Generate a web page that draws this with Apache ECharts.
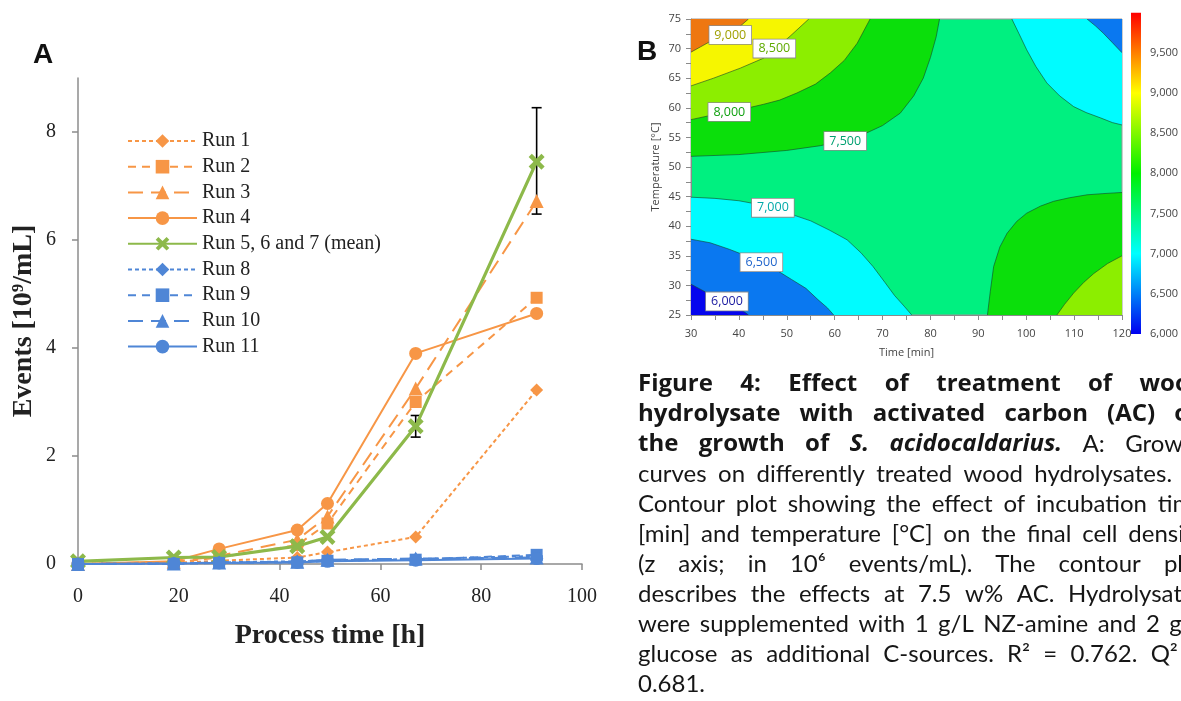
<!DOCTYPE html>
<html><head><meta charset="utf-8">
<script src="https://cdn.jsdelivr.net/npm/echarts@6/dist/echarts.min.js"></script>
<style>html,body{margin:0;padding:0;background:#fff}#c{width:1181px;height:701px}</style>
</head><body><div id="c"></div>
<script>
// ---------- Panel A data ----------
const times = [0, 19, 28, 43.5, 49.5, 67, 91];
const run1 = [0, 0.02, 0.06, 0.12, 0.22, 0.5, 3.22];
const run2 = [0, 0.03, 0.12, 0.35, 0.75, 3.0, 4.93];
const run3 = [0, 0.04, 0.15, 0.45, 0.88, 3.25, 6.72];
const run4 = [0, 0.05, 0.28, 0.63, 1.12, 3.9, 4.64];
const runMean = [0.05, 0.12, 0.13, 0.33, 0.5, 2.55, 7.45];
const run8 = [0, 0.01, 0.03, 0.05, 0.07, 0.09, 0.15];
const run9 = [0, 0.0, 0.02, 0.03, 0.06, 0.08, 0.17];
const run10 = [0, 0.01, 0.03, 0.04, 0.08, 0.1, 0.12];
const run11 = [0, 0.01, 0.02, 0.03, 0.05, 0.07, 0.1];
const errX = [67, 91];
const errLow = [2.35, 6.48];
const errHigh = [2.75, 8.45];
const yTicksA = [0, 2, 4, 6, 8];

// ---------- Panel B data (contour lines: [time min, temperature °C]) ----------
const iso9000TL = [[30,69.4],[32,70.3],[34,71.2],[36,71.9],[38.2,72.6],[40,73.6],[42,75]];
const iso8500TL = [[30,63.7],[34.7,65.0],[40.3,66.7],[45.2,68.4],[47.4,69.8],[50.7,72.1],[54.6,75]];
const iso8000TL = [[30,58.0],[34,58.7],[38,59.4],[42,60.0],[45.2,60.6],[48.5,61.3],[52.1,62.5],[56,64.0],[59.1,65.9],[62,68.0],[64.7,70.9],[67.4,75]];
const iso7500TL = [[30,51.8],[40,52.1],[50,52.8],[57,53.6],[62,54.5],[66,55.5],[70,57.0],[73.7,59.1],[76.5,62],[78.5,65],[80,68.5],[81.2,72],[81.9,75]];
const iso7000BL = [[30,44.9],[35,44.7],[40,44.3],[44,43.7],[47,43.0],[51,42.0],[55,40.9],[59,39.3],[62.6,37.7],[65.5,35.5],[68,33.2],[70.5,30.5],[72.5,28.3],[74.5,26.5],[76.1,25]];
const iso6500BL = [[30,37.8],[34,37.2],[38,36.1],[41.5,35.0],[44.6,33.8],[48,32.5],[51,31.0],[54,29.5],[56.5,27.6],[58.5,26.2],[59.8,25]];
const iso6000BL = [[30,30.2],[33,28.9],[36,27.8],[39,26.6],[41,25.6],[42,25]];
const iso7000TR = [[97,75],[98.5,72.5],[100.1,69.8],[102,67],[104.3,64.2],[107,62],[109.9,60.2],[112.5,59.2],[115.5,58.3],[118,57.5],[120,57.1]];
const iso6500TR = [[112.7,75],[114.5,73.8],[116.1,72.6],[118,71],[120,69.3]];
const iso7500BR = [[91.9,25],[92.5,29],[93.2,33.2],[94.5,36.5],[96,38.8],[98,40.8],[100.1,42.2],[103,43.4],[105.7,44.2],[109,44.8],[112.7,45.3],[116,45.5],[120,45.7]];
const iso8000BR = [[106.4,25],[108,26.8],[109.9,28.7],[112,30.5],[114.1,32.0],[117,33.7],[120,35.0]];
const contourLabels = [[38.2,72.3,9000],[47.4,70.0,8500],[38.0,59.3,8000],[62.2,54.4,7500],[47.1,43.1,7000],[44.7,33.9,6500],[37.5,27.3,6000]];
const colorbarTicks = [6000, 6500, 7000, 7500, 8000, 8500, 9000, 9500];
const colorbarRange = [6000, 10000];

// ---------- Caption ----------
const captionLines = [
  [['b','Figure 4: Effect of treatment of wood']],
  [['b','hydrolysate with activated carbon (AC) on']],
  [['b','the growth of'],['bi','S. acidocaldarius.'],['r','A: Growth']],
  [['r','curves on differently treated wood hydrolysates. B:']],
  [['r','Contour plot showing the effect of incubation time']],
  [['r','[min] and temperature [°C] on the final cell density']],
  [['r','(z axis; in 10⁶ events/mL). The contour plot']],
  [['r','describes the effects at 7.5 w% AC. Hydrolysates']],
  [['r','were supplemented with 1 g/L NZ-amine and 2 g/L']],
  [['r','glucose as additional C-sources. R² = 0.762. Q² =']],
  [['r','0.681.']]
];

// ---------- styles ----------
const ORANGE = '#F79646', BLUE = '#4F86D6', GREEN = '#8DB94A';
const SERIF = 'Liberation Serif';
const XPATH = 'path://M0,2L2,0L5,3L8,0L10,2L7,5L10,8L8,10L5,7L2,10L0,8L3,5Z';
const C = {bg:'#00F080', g7500:'#0BDF0B', g8000:'#8CEE00', g8500:'#F6F600', g9000:'#EE7711',
           c7000:'#00FCFF', b6500:'#0A78F0', b6000:'#0505EE'};
const regions = [
  {line: iso7500TL, corner: [[30,75]], color: C.g7500},
  {line: iso8000TL, corner: [[30,75]], color: C.g8000},
  {line: iso8500TL, corner: [[30,75]], color: C.g8500},
  {line: iso9000TL, corner: [[30,75]], color: C.g9000},
  {line: iso7000BL, corner: [[30,25]], color: C.c7000},
  {line: iso6500BL, corner: [[30,25]], color: C.b6500},
  {line: iso6000BL, corner: [[30,25]], color: C.b6000},
  {line: iso7000TR, corner: [[120,75]], color: C.c7000},
  {line: iso6500TR, corner: [[120,75]], color: C.b6500},
  {line: iso7500BR, corner: [[120,25]], color: C.g7500},
  {line: iso8000BR, corner: [[120,25]], color: C.g8000}
];
const labelColors = ['#A0A000','#5FAA00','#10A010','#00A070','#00A8A8','#2266CC','#1A1AA0'];

function runSeries(name, vals, color, dash, symbol, size, width, z) {
  return {
    name, type: 'line', xAxisIndex: 0, yAxisIndex: 0, z: z || 2,
    data: times.map((t, i) => [t, vals[i]]),
    symbol, symbolSize: size, showAllSymbol: true,
    lineStyle: {color, width, type: dash, cap: 'butt'},
    itemStyle: {color, borderWidth: 0},
    emphasis: {disabled: true}
  };
}

const series = [
  runSeries('Run 1', run1, ORANGE, [4, 3], 'diamond', 13, 2),
  runSeries('Run 2', run2, ORANGE, [8, 6], 'rect', 12, 2),
  runSeries('Run 3', run3, ORANGE, [15, 8], 'triangle', 14, 2),
  runSeries('Run 4', run4, ORANGE, 'solid', 'circle', 13, 2),
  runSeries('Run 5, 6 and 7 (mean)', runMean, GREEN, 'solid', XPATH, 16, 3.2, 3),
  runSeries('Run 8', run8, BLUE, [4, 3], 'diamond', 13, 2, 4),
  runSeries('Run 9', run9, BLUE, [8, 6], 'rect', 12, 2, 4),
  runSeries('Run 10', run10, BLUE, [15, 8], 'triangle', 14, 2, 4),
  runSeries('Run 11', run11, BLUE, 'solid', 'circle', 13, 2, 4),
  {
    type: 'custom', xAxisIndex: 0, yAxisIndex: 0, z: 2,
    data: errX.map((x, i) => [x, errLow[i], errHigh[i]]),
    renderItem: (params, api) => {
      const lo = api.coord([api.value(0), api.value(1)]);
      const hi = api.coord([api.value(0), api.value(2)]);
      const w = 5, st = {stroke: '#000', lineWidth: 1.6};
      return {type: 'group', children: [
        {type: 'line', shape: {x1: lo[0], y1: lo[1], x2: hi[0], y2: hi[1]}, style: st},
        {type: 'line', shape: {x1: lo[0]-w, y1: lo[1], x2: lo[0]+w, y2: lo[1]}, style: st},
        {type: 'line', shape: {x1: hi[0]-w, y1: hi[1], x2: hi[0]+w, y2: hi[1]}, style: st}
      ]};
    }
  },
  {
    type: 'custom', xAxisIndex: 1, yAxisIndex: 1, clip: true,
    data: regions.map((r, i) => [i]),
    renderItem: (params, api) => {
      const r = regions[params.dataIndex];
      const poly = r.line.concat(r.corner).map(p => api.coord(p));
      const pts = r.line.map(p => api.coord(p));
      return {type: 'group', children: [
        {type: 'polygon', shape: {points: poly}, style: {fill: r.color}},
        {type: 'polyline', shape: {points: pts}, style: {stroke: 'rgba(20,70,40,0.6)', lineWidth: 1, fill: null}}
      ]};
    }
  },
  {
    type: 'custom', xAxisIndex: 1, yAxisIndex: 1, z: 5,
    data: contourLabels,
    renderItem: (params, api) => {
      const p = api.coord([api.value(0), api.value(1)]);
      return {type: 'text', x: p[0], y: p[1],
        style: {text: api.value(2).toLocaleString('en-US'), align: 'center', verticalAlign: 'middle',
          fontSize: 12.5, fontFamily: 'Open Sans', fill: labelColors[params.dataIndex],
          backgroundColor: '#fff', borderColor: '#8a8a8a', borderWidth: 0.8, padding: [3, 5, 2, 5]}};
    }
  },
  {
    type: 'custom', xAxisIndex: 2, yAxisIndex: 2,
    data: [[0, colorbarRange[0], colorbarRange[1]]],
    renderItem: (params, api) => {
      const a = api.coord([0, api.value(2)]);
      const b = api.coord([1, api.value(1)]);
      return {type: 'rect', shape: {x: a[0], y: a[1], width: b[0]-a[0], height: b[1]-a[1]},
        style: {fill: new echarts.graphic.LinearGradient(0, 1, 0, 0, [
          {offset: 0, color: '#0000F0'}, {offset: 0.25, color: '#00FFFF'},
          {offset: 0.5, color: '#00F000'}, {offset: 0.75, color: '#FFFF00'},
          {offset: 1, color: '#FF0000'}])}};
    }
  }
];

// caption graphic (justified lines)
const ctx = document.createElement('canvas').getContext('2d');
const CAP = {left: 638, right: 1205, base: 384, pitch: 30};
function fontOf(s) {
  const bold = (s === 'b' || s === 'bi');
  return {
    fontStyle: s === 'bi' ? 'italic' : 'normal',
    fontWeight: bold ? 'bold' : 'normal',
    fontSize: bold ? 24 : 24,
    fontFamily: bold ? 'Open Sans' : 'Lato'
  };
}
const graphics = [
  {type: 'text', x: 33, y: 55, style: {text: 'A', fontFamily: 'Liberation Sans', fontWeight: 'bold', fontSize: 28, fill: '#111', verticalAlign: 'middle'}},
  {type: 'text', x: 637, y: 52, style: {text: 'B', fontFamily: 'Liberation Sans', fontWeight: 'bold', fontSize: 28, fill: '#111', verticalAlign: 'middle'}}
];
captionLines.forEach((line, li) => {
  const words = [];
  line.forEach(([st, txt]) => txt.split(' ').forEach(w => words.push([st, w])));
  let total = 0;
  const widths = words.map(([st, w]) => {
    const f = fontOf(st);
    ctx.font = `${f.fontStyle} ${f.fontWeight} ${f.fontSize}px ${f.fontFamily}`;
    const wd = ctx.measureText(w).width; total += wd; return wd;
  });
  const last = li === captionLines.length - 1;
  const gap = last ? 6 : Math.max(4, (CAP.right - CAP.left - total) / (words.length - 1));
  let x = CAP.left;
  words.forEach(([st, w], i) => {
    const f = fontOf(st);
    graphics.push({type: 'text', x, y: CAP.base + li * CAP.pitch,
      style: Object.assign({text: w, fill: '#161616', verticalAlign: 'middle'}, f)});
    x += widths[i] + gap;
  });
});

const axisGrayA = {color: '#8c8c8c', width: 1.5};
const bAxisLabel = {fontSize: 11, fontFamily: 'Open Sans', color: '#444'};
const option = {
  animation: false,
  backgroundColor: '#fff',
  grid: [
    {left: 78, top: 78, width: 504, height: 486},
    {left: 691, top: 19, width: 431, height: 296, show: true, backgroundColor: C.bg, borderColor: '#9a9a9a', borderWidth: 1},
    {left: 1131, top: 12.7, width: 15, height: 321.3}
  ],
  legend: {
    orient: 'vertical', left: 122, top: 126, itemWidth: 69, itemHeight: 17, itemGap: 5.7,
    selectedMode: false,
    data: ['Run 1','Run 2','Run 3','Run 4','Run 5, 6 and 7 (mean)','Run 8','Run 9','Run 10','Run 11'],
    textStyle: {fontFamily: SERIF, fontSize: 20, color: '#222'}
  },
  xAxis: [
    {gridIndex: 0, type: 'value', min: 0, max: 100, interval: 20,
     axisLine: {lineStyle: axisGrayA}, axisTick: {length: 6, lineStyle: axisGrayA},
     splitLine: {show: false},
     axisLabel: {margin: 23, fontSize: 20, fontFamily: SERIF, color: '#222'},
     name: 'Process time [h]', nameLocation: 'middle', nameGap: 58,
     nameTextStyle: {fontFamily: SERIF, fontWeight: 'bold', fontSize: 28, color: '#222'}},
    {gridIndex: 1, type: 'value', min: 30, max: 120, interval: 10,
     axisLine: {lineStyle: {color: '#8a8a8a'}}, axisTick: {length: 5, lineStyle: {color: '#8a8a8a'}},
     minorTick: {show: true, splitNumber: 2, length: 5, lineStyle: {color: '#8a8a8a'}},
     splitLine: {show: false}, axisLabel: Object.assign({margin: 13}, bAxisLabel),
     name: 'Time [min]', nameLocation: 'middle', nameGap: 32,
     nameTextStyle: {fontSize: 11, fontFamily: 'Open Sans', color: '#444'}},
    {gridIndex: 2, type: 'value', min: 0, max: 1, show: false}
  ],
  yAxis: [
    {gridIndex: 0, type: 'value', min: 0, max: 9,
     axisLine: {show: true, lineStyle: axisGrayA},
     axisTick: {show: true, length: 6, lineStyle: axisGrayA, customValues: yTicksA},
     splitLine: {show: false},
     axisLabel: {margin: 22, fontSize: 20, fontFamily: SERIF, color: '#222', customValues: yTicksA},
     name: 'Events [10⁹/mL]', nameLocation: 'middle', nameGap: 40,
     nameTextStyle: {fontFamily: SERIF, fontWeight: 'bold', fontSize: 28, color: '#222'}},
    {gridIndex: 1, type: 'value', min: 25, max: 75, interval: 5,
     axisLine: {show: true, lineStyle: {color: '#8a8a8a'}}, axisTick: {show: true, length: 5, lineStyle: {color: '#8a8a8a'}},
     minorTick: {show: true, splitNumber: 2, length: 5, lineStyle: {color: '#8a8a8a'}},
     splitLine: {show: false}, axisLabel: Object.assign({margin: 10}, bAxisLabel),
     name: 'Temperature [°C]', nameLocation: 'middle', nameGap: 30,
     nameTextStyle: {fontSize: 11, fontFamily: 'Open Sans', color: '#444'}},
    {gridIndex: 2, type: 'value', position: 'right', min: colorbarRange[0], max: colorbarRange[1],
     axisLine: {show: false}, axisTick: {show: false}, splitLine: {show: false},
     axisLabel: Object.assign({margin: 9, customValues: colorbarTicks, formatter: v => v.toLocaleString('en-US')}, bAxisLabel)}
  ],
  series,
  graphic: graphics
};
const chart = echarts.init(document.getElementById('c'));
chart.setOption(option);
</script>
</body></html>
